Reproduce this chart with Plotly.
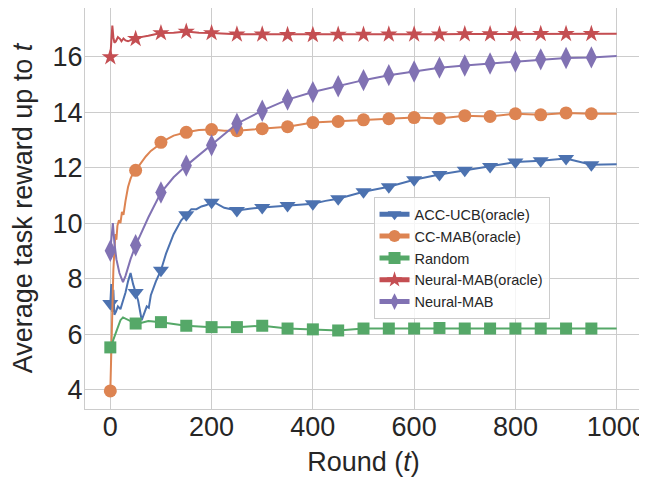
import plotly.graph_objects as go

# ---------------- data ----------------
acc_t = [0, 2, 4, 6, 8, 11, 15, 20, 25, 30, 35, 40, 45, 50, 55, 62, 68, 72, 76, 80, 90, 100,
         110, 125, 140, 150, 160, 170, 180, 190, 200, 210, 225, 250, 275, 300, 325, 350, 375,
         400, 425, 450, 475, 500, 550, 600, 650, 700, 750, 800, 850, 900, 950, 1000]
acc_v = [7.1, 7.8, 6.8, 7.6, 6.7, 6.8, 7.0, 6.9, 7.2, 7.5, 7.9, 8.2, 7.8, 7.5, 7.2, 6.5, 6.8, 7.0,
         6.95, 7.4, 7.9, 8.3, 8.9, 9.6, 10.1, 10.3, 10.5, 10.5, 10.6, 10.65, 10.75, 10.7, 10.55,
         10.45, 10.52, 10.56, 10.6, 10.63, 10.66, 10.7, 10.8, 10.88, 11.0, 11.13, 11.31, 11.56,
         11.75, 11.9, 12.04, 12.2, 12.25, 12.33, 12.1, 12.12]

cc_t = [0, 2, 4, 6, 8, 10, 12, 14, 17, 20, 23, 26, 30, 35, 40, 45, 50, 60, 70, 80, 90, 95, 100,
        125, 150, 175, 200, 225, 250, 275, 300, 350, 400, 450, 500, 550, 600, 650, 700, 750,
        800, 850, 900, 950, 1000]
cc_v = [3.95, 5.5, 7.6, 8.3, 9.0, 9.6, 9.4, 9.9, 10.1, 10.0, 10.4, 10.3, 10.8, 11.3, 11.6, 11.8,
        11.9, 12.15, 12.4, 12.6, 12.75, 12.8, 12.91, 13.15, 13.27, 13.35, 13.37, 13.33, 13.33,
        13.37, 13.4, 13.47, 13.62, 13.66, 13.72, 13.76, 13.8, 13.77, 13.87, 13.84, 13.94, 13.9,
        13.97, 13.94, 13.94]

rnd_t = [0, 3, 6, 10, 15, 20, 25, 30, 40, 50, 60, 75, 90, 100, 125, 150, 175, 200, 250, 300,
         350, 400, 450, 500, 550, 600, 650, 700, 750, 800, 850, 900, 950, 1000]
rnd_v = [5.52, 5.6, 5.8, 6.0, 6.3, 6.5, 6.6, 6.55, 6.45, 6.38, 6.4, 6.47, 6.44, 6.43, 6.36, 6.3,
         6.27, 6.25, 6.25, 6.3, 6.2, 6.17, 6.13, 6.2, 6.2, 6.2, 6.22, 6.2, 6.2, 6.2, 6.2, 6.2,
         6.2, 6.2]

nmo_t = [0, 2, 4, 6, 8, 11, 15, 19, 22, 26, 30, 35, 40, 45, 50, 60, 75, 100, 125, 150, 175, 200,
         250, 300, 350, 400, 450, 500, 550, 600, 650, 700, 750, 800, 850, 900, 950, 1000]
nmo_v = [15.98, 16.8, 17.12, 16.7, 16.5, 16.55, 16.7, 16.64, 16.55, 16.65, 16.58, 16.55, 16.6,
         16.63, 16.64, 16.7, 16.75, 16.85, 16.86, 16.9, 16.86, 16.85, 16.8, 16.8, 16.78, 16.78,
         16.79, 16.79, 16.8, 16.8, 16.8, 16.81, 16.81, 16.81, 16.82, 16.82, 16.82, 16.82]

nm_t = [0, 3, 5, 8, 12, 18, 25, 30, 40, 50, 75, 100, 125, 150, 175, 200, 250, 300, 350, 400,
        450, 500, 550, 600, 650, 700, 750, 800, 850, 900, 950, 1000]
nm_v = [9.0, 9.6, 10.0, 9.3, 8.7, 8.2, 7.87, 8.1, 8.7, 9.2, 10.2, 11.1, 11.65, 12.07, 12.45,
        12.8, 13.58, 14.05, 14.45, 14.72, 14.93, 15.15, 15.33, 15.46, 15.6, 15.68, 15.75, 15.82,
        15.9, 15.95, 15.97, 16.02]

x_ticks = [0, 200, 400, 600, 800, 1000]
y_ticks = [4, 6, 8, 10, 12, 14, 16]
MARK_EVERY = 50

series = [
    ("ACC-UCB(oracle)", acc_t, acc_v, "#4C72B0", "triangle-down", 14),
    ("CC-MAB(oracle)", cc_t, cc_v, "#DD8452", "circle", 13),
    ("Random", rnd_t, rnd_v, "#55A868", "square", 12),
    ("Neural-MAB(oracle)", nmo_t, nmo_v, "#C44E52", "star", 13),
    ("Neural-MAB", nm_t, nm_v, "#8172B3", "diamond-tall", 16),
]

FONT = "Liberation Sans, Arial, sans-serif"
TXT = "#262626"

fig = go.Figure()
for name, t, v, color, sym, size in series:
    sizes = [size if (ti % MARK_EVERY == 0 and ti < 1000) else 0 for ti in t]
    fig.add_trace(go.Scatter(
        x=t, y=v, name=name, mode="lines+markers",
        line=dict(color=color, width=2),
        marker=dict(color=color, symbol=sym, size=sizes, opacity=1, line=dict(width=0)),
    ))

# page body has an 8px margin: figure is 8px smaller so it fits the window
fig.update_layout(
    width=639, height=469,
    margin=dict(l=77, r=5, t=0, b=68),
    paper_bgcolor="white", plot_bgcolor="white",
    font=dict(family=FONT, color=TXT, size=27),
    legend=dict(
        x=0.518, y=0.528, xanchor="left", yanchor="top",
        bgcolor="rgba(255,255,255,0.8)", bordercolor="#cccccc", borderwidth=1,
        font=dict(size=14.5, color=TXT), itemsizing="constant",
        tracegroupgap=0,
    ),
)
fig.update_xaxes(
    range=[-50, 1050], tickvals=x_ticks, ticktext=[str(x) for x in x_ticks],
    showgrid=True, gridcolor="#cccccc", gridwidth=1,
    showline=True, linecolor="#cccccc", linewidth=1, mirror=True,
    zeroline=False, ticks="", tickfont=dict(size=27, color=TXT), automargin=False,
    ticklabelstandoff=-6,
    title=dict(text="Round (<i>t</i>)", font=dict(size=27, color=TXT)),
)
fig.update_yaxes(
    range=[3.3, 17.75], tickvals=y_ticks, ticktext=[str(y) for y in y_ticks],
    showgrid=True, gridcolor="#cccccc", gridwidth=1,
    showline=True, linecolor="#cccccc", linewidth=1, mirror=True,
    zeroline=False, ticks="", tickfont=dict(size=27, color=TXT), automargin=False,
    ticklabelstandoff=-4,
    title=dict(text="Average task reward up to <i>t</i>", font=dict(size=27, color=TXT)),
)

fig.write_html("out.html")
